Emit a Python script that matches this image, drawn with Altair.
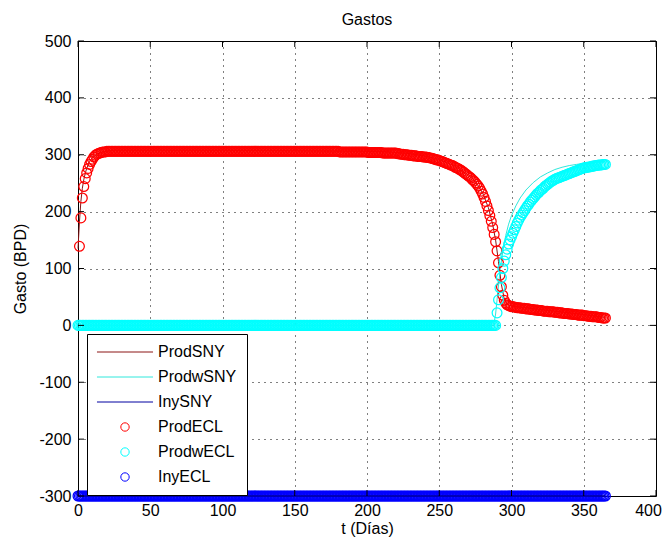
import altair as alt
import pandas as pd

# ---------------- data ----------------
x_ticks = [0, 50, 100, 150, 200, 250, 300, 350, 400]
y_ticks = [-300, -200, -100, 0, 100, 200, 300, 400, 500]

series_names = ["ProdSNY", "ProdwSNY", "InySNY", "ProdECL", "ProdwECL", "InyECL"]
series_colors = ["#8B1414", "#30E8DC", "#0000A0", "#FF0000", "#00FFFF", "#0000FF"]

# ProdECL (red circles), one value per day starting at day 1
prod_ecl_start = 1
prod_ecl = (
    [139, 189, 224, 244, 258, 268, 276, 283, 288, 292, 296, 299, 301, 302, 303, 304, 305, 305, 305, 306]
    + [306] * 160
    + [305] * 20
    + [304] * 10
    + [303] * 10
    + [302, 302, 301, 301, 301, 300, 300, 300, 299, 299]
    + [299, 298, 298, 298, 297, 297, 297, 297, 296]
    + [296, 296, 295, 295, 294, 294, 293, 292, 291, 291, 290, 289, 288, 287, 286, 285, 284, 283, 282, 281, 280, 278]
    + [277, 276, 274, 273, 271, 269, 267, 265, 263, 261, 259, 256, 254, 251, 248, 245, 241, 236, 231, 225,
       218, 210, 202, 193, 183, 172, 160, 147, 131, 110, 88, 68, 53, 44, 39, 36, 35, 34, 33, 33, 32, 32, 31, 31]
    + [31, 30, 30, 30, 29, 29, 29, 28, 28, 28, 27, 27, 27, 26, 26, 26, 25, 25, 25, 25,
       24, 24, 24, 24, 23, 23, 23, 22, 22, 22, 21, 21, 21, 21, 20, 20, 20, 19, 19, 19,
       18, 18, 18, 18, 17, 17, 17, 16, 16, 16, 15, 15, 15, 15, 14, 14, 14, 13, 13, 13]
)

# ProdwECL (cyan circles), one value per day starting at day 0
prodw_ecl_start = 0
prodw_ecl = (
    [0] * 290
    + [22, 45, 66, 84, 100, 113, 124, 134, 143, 150, 156, 162, 168, 174, 180, 185, 190, 194, 198, 202,
       206, 210, 213, 217, 220, 223, 226, 229, 232, 234, 237, 239, 241, 244, 246, 248, 250, 252, 254, 255,
       257, 258, 259, 260, 261, 262, 263, 264, 265, 266, 267, 268, 269, 270, 271, 272, 273, 274, 275, 276,
       277, 277, 278, 278, 279, 279, 280, 280, 281, 281, 282, 282, 282, 283, 283, 283]
)

# InyECL (blue circles), one value per day starting at day 0
iny_ecl_start = 0
iny_ecl = [-300] * 366

# Simulator lines
prod_sny_t = [0, 1, 2, 3, 4, 5, 6, 8, 10, 13, 17, 25, 100, 150, 200, 215, 230, 240, 250, 260,
              270, 275, 280, 284, 287, 289, 291, 293, 295, 297, 300, 310, 330, 350, 365]
prod_sny_v = [135, 182, 218, 241, 256, 267, 276, 288, 295, 301, 305, 308, 308, 307, 306, 305, 302, 298, 292, 281,
              265, 253, 233, 207, 177, 150, 112, 72, 46, 37, 34, 31, 25, 19, 14]

prodw_sny_t = [0, 287, 288, 289, 290, 292, 294, 296, 298, 300, 303, 306, 310, 315, 320, 325, 330, 335,
               340, 345, 350, 355, 360, 365]
prodw_sny_v = [0, 0, 5, 20, 45, 95, 130, 158, 178, 193, 210, 224, 238, 251, 261, 268, 274, 278,
               281, 283, 285, 286, 287, 288]

iny_sny_t = [0, 365]
iny_sny_v = [-300, -300]

# ---------------- frames ----------------
def frame(ts, vs, name):
    return pd.DataFrame({"t": ts, "v": vs, "serie": name})

lines_under = pd.concat([frame(prod_sny_t, prod_sny_v, "ProdSNY"),
                         frame(prodw_sny_t, prodw_sny_v, "ProdwSNY")])
lines_top = frame(iny_sny_t, iny_sny_v, "InySNY")
points = pd.concat([
    frame(list(range(prod_ecl_start, prod_ecl_start + len(prod_ecl))), prod_ecl, "ProdECL"),
    frame(list(range(prodw_ecl_start, prodw_ecl_start + len(prodw_ecl))), prodw_ecl, "ProdwECL"),
    frame(list(range(iny_ecl_start, iny_ecl_start + len(iny_ecl))), iny_ecl, "InyECL"),
])
xt = pd.DataFrame({"t": x_ticks})
yt = pd.DataFrame({"v": y_ticks})

# ---------------- chart ----------------
W, H = 578, 455
FONT = "Liberation Sans"
LINE_SHAPE = "M-6.7,0L6.7,0"

xs = alt.Scale(domain=[0, 400], nice=False, zero=False)
ys = alt.Scale(domain=[-300, 500], nice=False, zero=False)
color_scale = alt.Scale(domain=series_names, range=series_colors)
shape_scale = alt.Scale(domain=series_names, range=[LINE_SHAPE] * 3 + ["circle"] * 3)

axis_style = dict(grid=True, ticks=False, domain=False,
                  labelFlush=False, labelOverlap=False, labelExpr="datum.value + ''",
                  labelFont=FONT, labelFontSize=16, labelColor="black",
                  titleFont=FONT, titleFontSize=16, titleFontWeight="normal", titleColor="black",
                  gridColor="black", gridOpacity=1, gridWidth=1, gridDash=[1, 5])
x_axis = alt.Axis(values=x_ticks, labelPadding=6, titleY=37, titleBaseline="alphabetic",
                  labelOffset={"condition": {"test": "datum.value == 400", "value": -8}, "value": 0},
                  **axis_style)
y_axis = alt.Axis(values=y_ticks, labelPadding=7, titlePadding=10, **axis_style)

legend = alt.Legend(title=None, orient="none", legendX=9, legendY=293,
                    fillColor="white", strokeColor="black", padding=10,
                    labelFont=FONT, labelFontSize=16, labelColor="black", labelLimit=300,
                    symbolSize=70, symbolOffset=20, labelOffset=25, rowPadding=9,
                    symbolStrokeWidth=1)

X = alt.X("t:Q", scale=xs, axis=x_axis, title="t (Días)")
Y = alt.Y("v:Q", scale=ys, axis=y_axis, title="Gasto (BPD)")
C = alt.Color("serie:N", scale=color_scale, legend=legend)

under = alt.Chart(lines_under).mark_line(strokeWidth=1).encode(x=X, y=Y, color=C, detail="serie:N")
pts = alt.Chart(points).mark_point(shape="circle", filled=False, size=96, strokeWidth=1.25, opacity=1).encode(
    x=X, y=Y, color=C, shape=alt.Shape("serie:N", scale=shape_scale, legend=legend))
top = alt.Chart(lines_top).mark_line(strokeWidth=1.5).encode(x=X, y=Y, color=C)

t_bottom = alt.Chart(xt).mark_rule(color="black", strokeWidth=1).encode(
    x=X, y=alt.value(H), y2=alt.value(H - 6))
t_top = alt.Chart(xt).mark_rule(color="black", strokeWidth=1).encode(
    x=X, y=alt.value(0), y2=alt.value(6))
t_left = alt.Chart(yt).mark_rule(color="black", strokeWidth=1).encode(
    y=Y, x=alt.value(0), x2=alt.value(6))
t_right = alt.Chart(yt).mark_rule(color="black", strokeWidth=1).encode(
    y=Y, x=alt.value(W), x2=alt.value(W - 6))

chart = alt.layer(under, pts, top, t_bottom, t_top, t_left, t_right).properties(
    width=W, height=H,
    background="white",
    title=alt.TitleParams("Gastos", font=FONT, fontSize=16, fontWeight="normal", color="black",
                          frame="group", anchor="middle", offset=5),
    autosize=alt.AutoSizeParams(type="none"),
    padding={"left": 70, "top": 33, "right": 6, "bottom": 41},
).configure_view(stroke="black", strokeWidth=1)

chart.save("out.html", embed_options={"renderer": "svg", "actions": False})
